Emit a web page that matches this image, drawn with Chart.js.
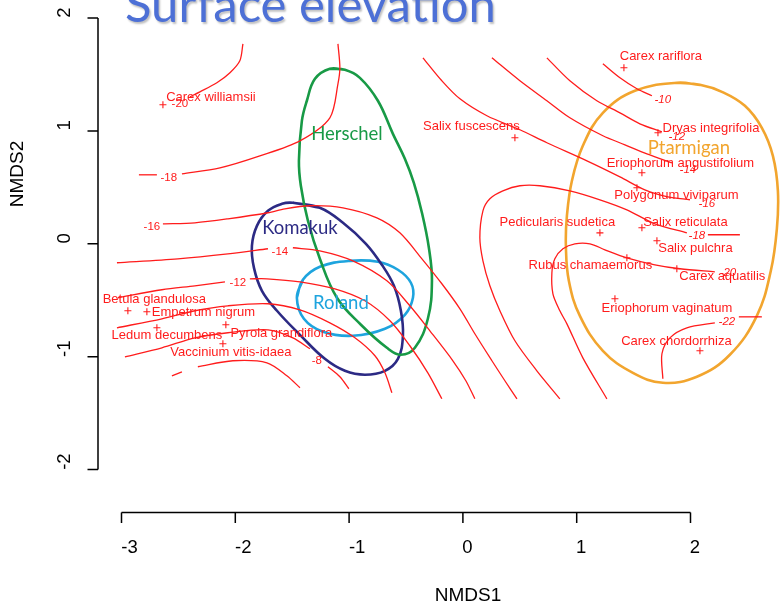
<!DOCTYPE html>
<html><head><meta charset="utf-8">
<script src="https://cdn.jsdelivr.net/npm/chart.js@4.4.1/dist/chart.umd.min.js"></script>
<style>html,body{margin:0;padding:0;background:#fff;}</style>
</head><body>
<canvas id="c" width="780" height="613"></canvas>
<script>
// ---------------- DATA ----------------
const titleText = "Surface elevation";
const xTitle = "NMDS1";
const yTitle = "NMDS2";
const xTicks = [-3, -2, -1, 0, 1, 2];
const yTicks = [-2, -1, 0, 1, 2];

const speciesNames = ["Carex williamsii","Salix fuscescens","Carex rariflora","Dryas integrifolia","Eriophorum angustifolium","Polygonum viviparum","Salix reticulata","Salix pulchra","Pedicularis sudetica","Rubus chamaemorus","Carex aquatilis","Eriophorum vaginatum","Carex chordorrhiza","Betula glandulosa","Empetrum nigrum","Ledum decumbens","Pyrola grandiflora","Vaccinium vitis-idaea"];
const speciesX = [-2.636,0.457,1.415,1.714,1.573,1.529,1.573,1.705,1.204,1.441,1.880,1.336,2.083,-2.944,-2.777,-2.689,-2.083,-2.109];
const speciesY = [1.231,0.939,1.559,0.983,0.629,0.496,0.142,0.027,0.097,-0.124,-0.221,-0.487,-0.948,-0.593,-0.602,-0.744,-0.717,-0.886];

const contourX = [
  [-1.933,-1.960,-2.047,-2.162,-2.311,-2.399],
  [-2.847,-2.689],
  [-2.469,-2.135,-1.784,-1.432,-1.169,-1.098,-1.081,-1.098],
  [-2.636,-2.355,-2.065,-1.713,-1.564,-1.344,-1.054,-0.756,-0.554,-0.360,-0.185,-0.026,0.105,0.255,0.369,0.475],
  [-3.040,-2.504,-2.065,-1.713],
  [-1.494,-1.257,-0.967,-0.668,-0.466,-0.290,-0.088,0.026,0.105],
  [-3.032,-2.645,-2.355,-2.091],
  [-1.872,-1.722,-1.432,-1.125,-0.861,-0.641,-0.466,-0.308,-0.185],
  [-3.040,-2.645,-2.355,-2.065,-1.713,-1.432,-1.169,-0.949,-0.773,-0.685,-0.624],
  [-2.970,-2.645,-2.355,-2.065,-1.713,-1.494,-1.344],
  [-1.186,-1.081,-1.002],
  [-2.329,-2.021,-1.722,-1.547,-1.432],
  [-2.557,-2.469],
  [1.230,1.380,1.529,1.661],
  [0.738,0.940,1.177,1.380,1.555,1.749],
  [0.255,0.501,0.738,0.940,1.230,1.424,1.617,1.837],
  [-0.351,-0.185,-0.026,0.211,0.501,0.738,1.090,1.380,1.599,1.801,1.995],
  [1.968,1.687,1.441,1.204,0.940,0.677,0.501,0.351,0.237,0.176,0.149,0.176,0.237,0.325,0.457,0.650,0.852],
  [2.153,2.434],
  [2.214,1.907,1.687,1.441,1.248,1.116,0.984,0.879,0.808,0.782,0.791,0.852,0.914,1.054,1.265],
  [1.757,1.749,1.819,1.968,2.214],
  [2.425,2.627]
];
const contourY = [
  [1.771,1.621,1.515,1.426,1.346,1.302],
  [0.611,0.611],
  [0.620,0.673,0.779,0.912,1.116,1.417,1.559,1.771],
  [0.177,0.186,0.221,0.275,0.310,0.337,0.319,0.230,0.097,-0.133,-0.354,-0.576,-0.797,-1.036,-1.213,-1.373],
  [-0.168,-0.133,-0.089,-0.044],
  [-0.035,-0.062,-0.151,-0.328,-0.549,-0.771,-1.036,-1.213,-1.373],
  [-0.478,-0.407,-0.372,-0.337],
  [-0.310,-0.310,-0.337,-0.399,-0.505,-0.682,-0.903,-1.143,-1.373],
  [-0.744,-0.664,-0.593,-0.549,-0.531,-0.585,-0.700,-0.833,-0.992,-1.143,-1.320],
  [-1.001,-0.921,-0.833,-0.788,-0.762,-0.833,-0.930],
  [-1.089,-1.178,-1.284],
  [-1.089,-1.036,-1.054,-1.169,-1.275],
  [-1.169,-1.134],
  [1.594,1.470,1.373,1.311],
  [1.647,1.444,1.267,1.160,1.063,0.992],
  [1.647,1.444,1.267,1.116,0.957,0.877,0.797,0.717],
  [1.647,1.444,1.284,1.134,1.010,0.895,0.735,0.593,0.478,0.416,0.390],
  [0.097,0.177,0.301,0.390,0.469,0.514,0.514,0.469,0.399,0.292,0.053,-0.151,-0.372,-0.593,-0.859,-1.125,-1.373],
  [0.080,0.080],
  [-0.248,-0.221,-0.186,-0.124,-0.053,0,0,-0.044,-0.133,-0.257,-0.443,-0.593,-0.709,-1.010,-1.373],
  [-1.196,-0.974,-0.833,-0.744,-0.700],
  [-0.647,-0.647]
];
const contourLabels = ["-20","-18","-16","-14","-12","-8","-10","-12","-14","-16","-18","-20","-22"];
const contourLabelX = [-2.487,-2.584,-2.733,-1.608,-1.977,-1.283,1.757,1.880,1.977,2.144,2.056,2.329,2.320];
const contourLabelY = [1.240,0.585,0.151,-0.071,-0.345,-1.036,1.275,0.948,0.655,0.354,0.071,-0.257,-0.691];

const groupNames = ["Herschel","Komakuk","Roland","Ptarmigan"];
const groupLabelX = [-1.019,-1.432,-1.072,1.986];
const groupLabelY = [0.974,0.142,-0.523,0.850];
const herschelX = [-1.169,-1.037,-0.905,-0.747,-0.615,-0.510,-0.431,-0.360,-0.299,-0.272,-0.308,-0.422,-0.545,-0.668,-0.896,-1.107,-1.257,-1.362,-1.424,-1.441,-1.415,-1.371,-1.300,-1.169];
const herschelY = [1.550,1.541,1.470,1.267,0.974,0.753,0.540,0.275,-0.035,-0.328,-0.664,-0.921,-0.983,-0.921,-0.717,-0.478,-0.133,0.204,0.514,0.735,1.089,1.267,1.461,1.550];
const komakukX = [-1.494,-1.257,-1.054,-0.852,-0.712,-0.606,-0.545,-0.527,-0.571,-0.685,-0.861,-1.037,-1.213,-1.432,-1.634,-1.766,-1.836,-1.854,-1.810,-1.713,-1.590,-1.494];
const komakukY = [0.363,0.319,0.186,0,-0.186,-0.372,-0.593,-0.815,-1.019,-1.125,-1.160,-1.125,-1.019,-0.806,-0.593,-0.416,-0.213,-0.018,0.159,0.292,0.354,0.363];
const rolandX = [-1.459,-1.406,-1.257,-0.993,-0.747,-0.571,-0.457,-0.439,-0.510,-0.685,-0.967,-1.230,-1.397,-1.459];
const rolandY = [-0.478,-0.319,-0.204,-0.151,-0.159,-0.230,-0.345,-0.478,-0.629,-0.753,-0.815,-0.779,-0.664,-0.478];
const ptarmiganX = [1.880,2.083,2.276,2.478,2.627,2.724,2.768,2.759,2.706,2.583,2.346,2.056,1.757,1.494,1.230,1.028,0.931,0.905,0.914,0.958,1.054,1.230,1.511,1.880];
const ptarmiganY = [1.426,1.408,1.346,1.222,1.027,0.779,0.469,0.133,-0.239,-0.638,-0.983,-1.178,-1.231,-1.143,-0.948,-0.638,-0.328,-0.018,0.248,0.558,0.868,1.160,1.355,1.426];

// ---------------- LAYOUT / STYLE ----------------
const RED = "#ff1c1c";
const groupColors = ["#189a46","#2c2a84","#1ea4de","#f2a52e"];
const labelDX = [48,-43.5,37,53,38.5,39.5,43.5,38.5,-42.5,-36.5,45.5,52,-23.5,26.5,56.5,10,55.5,8];
const labelDY = [-7,-11,-11,-4,-9,8,-5,8,-10,8,8,10,-9,-11,1,8,9,9];
const rightItalicFrom = 6;
const AX = { xAxisY: 512.5, yAxisX: 98, tick: 10.5 };

const pts = (xs, ys) => xs.map((v, i) => ({x: v, y: ys[i]}));
const closed = (xs, ys) => { const p = pts(xs, ys); p.push(p[1]); return p; };

const datasets = [];
contourX.forEach((xs, i) => datasets.push({
  data: pts(xs, contourY[i]), showLine: true, pointRadius: 0, borderColor: RED,
  borderWidth: 1.3, tension: 0.3, fill: false, borderJoinStyle: 'round'
}));
[[herschelX, herschelY],[komakukX, komakukY],[rolandX, rolandY],[ptarmiganX, ptarmiganY]].forEach((e, i) => datasets.push({
  data: closed(e[0], e[1]), showLine: true, pointRadius: 0, borderColor: groupColors[i],
  borderWidth: 2.6, tension: 0.4, fill: false
}));
datasets.push({
  data: pts(speciesX, speciesY), showLine: false, pointStyle: 'cross', pointRadius: 3.5,
  borderColor: RED, borderWidth: 1.1, backgroundColor: RED
});

const drawPlugin = {
  id: 'rdraw',
  afterDatasetsDraw(chart) {
    const {ctx} = chart; const sx = chart.scales.x, sy = chart.scales.y;
    ctx.save();
    // axes
    ctx.strokeStyle = '#000'; ctx.lineWidth = 1.5; ctx.beginPath();
    ctx.moveTo(sx.getPixelForValue(xTicks[0]), AX.xAxisY);
    ctx.lineTo(sx.getPixelForValue(xTicks[xTicks.length-1]), AX.xAxisY);
    xTicks.forEach(v => { const p = sx.getPixelForValue(v); ctx.moveTo(p, AX.xAxisY); ctx.lineTo(p, AX.xAxisY + AX.tick); });
    ctx.moveTo(AX.yAxisX, sy.getPixelForValue(yTicks[0]));
    ctx.lineTo(AX.yAxisX, sy.getPixelForValue(yTicks[yTicks.length-1]));
    yTicks.forEach(v => { const p = sy.getPixelForValue(v); ctx.moveTo(AX.yAxisX, p); ctx.lineTo(AX.yAxisX - AX.tick, p); });
    ctx.stroke();
    ctx.fillStyle = '#000'; ctx.textAlign = 'center'; ctx.textBaseline = 'middle';
    ctx.font = '18.5px "Liberation Sans", Arial, sans-serif';
    xTicks.forEach(v => ctx.fillText(String(v), sx.getPixelForValue(v) + (v < 0 ? 8 : 4.5), 548));
    yTicks.forEach(v => {
      ctx.save(); ctx.translate(64.5, sy.getPixelForValue(v) - (v < 0 ? 8 : 5.5)); ctx.rotate(-Math.PI/2);
      ctx.fillText(String(v), 0, 0); ctx.restore();
    });
    ctx.font = '19px "Liberation Sans", Arial, sans-serif';
    ctx.fillText(xTitle, 468, 596);
    ctx.save(); ctx.translate(17.5, 174); ctx.rotate(-Math.PI/2); ctx.fillText(yTitle, 0, 0); ctx.restore();
    // contour labels
    ctx.fillStyle = RED;
    contourLabels.forEach((t, i) => {
      ctx.font = (i >= rightItalicFrom ? 'italic ' : '') + '11.5px "Liberation Sans", Arial, sans-serif';
      ctx.fillText(t, sx.getPixelForValue(contourLabelX[i]), sy.getPixelForValue(contourLabelY[i]));
    });
    // species labels
    ctx.font = '13px "Liberation Sans", Arial, sans-serif';
    speciesNames.forEach((n, i) => {
      ctx.fillText(n, sx.getPixelForValue(speciesX[i]) + labelDX[i], sy.getPixelForValue(speciesY[i]) + labelDY[i]);
    });
    // group labels
    ctx.font = '18.5px Lato, "Open Sans", sans-serif';
    groupNames.forEach((g, i) => {
      ctx.fillStyle = groupColors[i];
      ctx.fillText(g, sx.getPixelForValue(groupLabelX[i]), sy.getPixelForValue(groupLabelY[i]));
    });
    // title
    ctx.textAlign = 'left'; ctx.textBaseline = 'alphabetic';
    ctx.font = '49px Lato, "Open Sans", sans-serif';
    ctx.shadowColor = 'rgba(0,0,0,0.25)'; ctx.shadowOffsetX = 1.5; ctx.shadowOffsetY = 1.5; ctx.shadowBlur = 2;
    ctx.fillStyle = '#4d70d6';
    ctx.fillText(titleText, 125, 22);
    ctx.restore();
  }
};

new Chart(document.getElementById('c'), {
  type: 'scatter',
  data: { datasets },
  options: {
    responsive: false, animation: false, devicePixelRatio: 1, events: [],
    layout: { padding: 0, autoPadding: false },
    plugins: { legend: { display: false }, tooltip: { enabled: false } },
    scales: {
      x: { type: 'linear', display: false, min: -4.0677, max: 2.7865 },
      y: { type: 'linear', display: false, min: -3.2702, max: 2.1594 }
    }
  },
  plugins: [drawPlugin]
});
</script>
</body></html>
